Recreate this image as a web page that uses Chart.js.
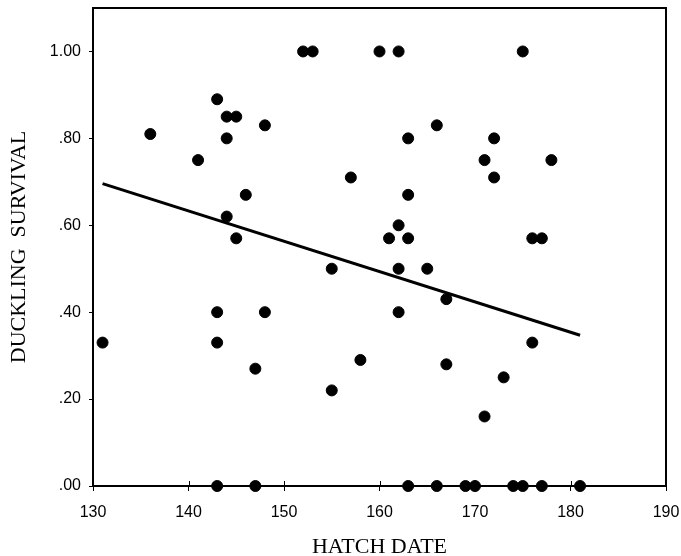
<!DOCTYPE html>
<html>
<head>
<meta charset="utf-8">
<script src="https://cdn.jsdelivr.net/npm/chart.js@4/dist/chart.umd.min.js"></script>
<style>
  html, body { margin: 0; padding: 0; background: #fff; }
  canvas { display: block; }
</style>
</head>
<body>
<canvas id="c" width="681" height="556"></canvas>
<script>
// ---- data ----
const hatchDate = [131,136,141,143,143,143,143,144,144,144,145,145,146,147,147,148,148,152,153,155,155,157,158,160,161,162,162,162,162,163,163,163,163,165,166,166,167,167,169,170,171,171,172,172,173,174,175,175,176,176,177,177,178,181];
const survival  = [0.33,0.81,0.75,0.89,0.40,0.33,0.00,0.85,0.80,0.62,0.85,0.57,0.67,0.27,0.00,0.83,0.40,1.00,1.00,0.50,0.22,0.71,0.29,1.00,0.57,1.00,0.60,0.50,0.40,0.80,0.67,0.57,0.00,0.50,0.83,0.00,0.43,0.28,0.00,0.00,0.75,0.16,0.80,0.71,0.25,0.00,1.00,0.00,0.57,0.33,0.57,0.00,0.75,0.00];
const fitDate = [131, 181];
const fitSurvival = [0.696, 0.347];
const xTicks = [130,140,150,160,170,180,190];
const yTicks = [0, 0.2, 0.4, 0.6, 0.8, 1.0];
const xTitle = 'HATCH DATE';
const yTitle = 'DUCKLING  SURVIVAL';

const points = hatchDate.map((d, i) => ({ x: d, y: survival[i] }));
const fit = fitDate.map((d, i) => ({ x: d, y: fitSurvival[i] }));

const framePlugin = {
  id: 'frame',
  afterDraw(chart) {
    const { ctx, chartArea: { left, top, right, bottom }, scales: { x } } = chart;
    ctx.save();
    ctx.strokeStyle = '#000';
    ctx.lineWidth = 2;
    ctx.beginPath();
    ctx.moveTo(left - 1, top);
    ctx.lineTo(right, top);
    ctx.lineTo(right, bottom);
    ctx.stroke();
    ctx.lineWidth = 1;
    ctx.beginPath();
    xTicks.slice(1, -1).forEach(v => {
      const px = Math.round(x.getPixelForValue(v)) + 0.5;
      ctx.moveTo(px, bottom);
      ctx.lineTo(px, bottom - 5);
    });
    ctx.stroke();
    ctx.restore();
  }
};

new Chart(document.getElementById('c'), {
  type: 'scatter',
  data: {
    datasets: [
      {
        type: 'line',
        data: fit,
        borderColor: '#000',
        borderWidth: 3,
        pointRadius: 0,
        fill: false,
        clip: false
      },
      {
        data: points,
        backgroundColor: '#000',
        borderColor: '#000',
        pointRadius: 5.5,
        pointHoverRadius: 5.5,
        clip: false
      }
    ]
  },
  options: {
    responsive: false,
    animation: false,
    events: [],
    layout: { padding: { top: 8, right: 15, left: 0, bottom: 0 } },
    plugins: { legend: { display: false }, tooltip: { enabled: false } },
    scales: {
      x: {
        type: 'linear',
        min: 130,
        max: 190,
        afterFit(s) { s.height = 70; s.paddingLeft = 0; s.paddingRight = 0; },
        afterBuildTicks(s) { s.ticks = xTicks.map(v => ({ value: v })); },
        border: { color: '#000', width: 2 },
        grid: { drawOnChartArea: false, color: '#000', tickLength: 5, tickWidth: 1 },
        ticks: {
          color: '#000',
          padding: 12,
          maxRotation: 0,
          font: { family: 'Liberation Sans, Arial, sans-serif', size: 16 },
          callback: v => String(v)
        },
        title: {
          display: true,
          text: xTitle,
          color: '#000',
          font: { family: 'Liberation Serif, Times New Roman, serif', size: 22, lineHeight: 1 },
          padding: { top: 0, bottom: -2 }
        }
      },
      y: {
        type: 'linear',
        min: 0,
        max: 1.1,
        afterFit(s) { s.width = 93; s.paddingTop = 0; s.paddingBottom = 0; },
        afterBuildTicks(s) { s.ticks = yTicks.map(v => ({ value: v })); },
        border: { color: '#000', width: 2 },
        grid: { drawOnChartArea: false, color: '#000', tickLength: 4, tickWidth: 1 },
        ticks: {
          color: '#000',
          padding: 8,
          font: { family: 'Liberation Sans, Arial, sans-serif', size: 16 },
          callback: v => v.toFixed(2).replace(/^0/, '')
        },
        title: {
          display: true,
          text: yTitle,
          color: '#000',
          font: { family: 'Liberation Serif, Times New Roman, serif', size: 22, lineHeight: 1 },
          padding: { top: 8, bottom: 0 }
        }
      }
    }
  },
  plugins: [framePlugin]
});
</script>
</body>
</html>
